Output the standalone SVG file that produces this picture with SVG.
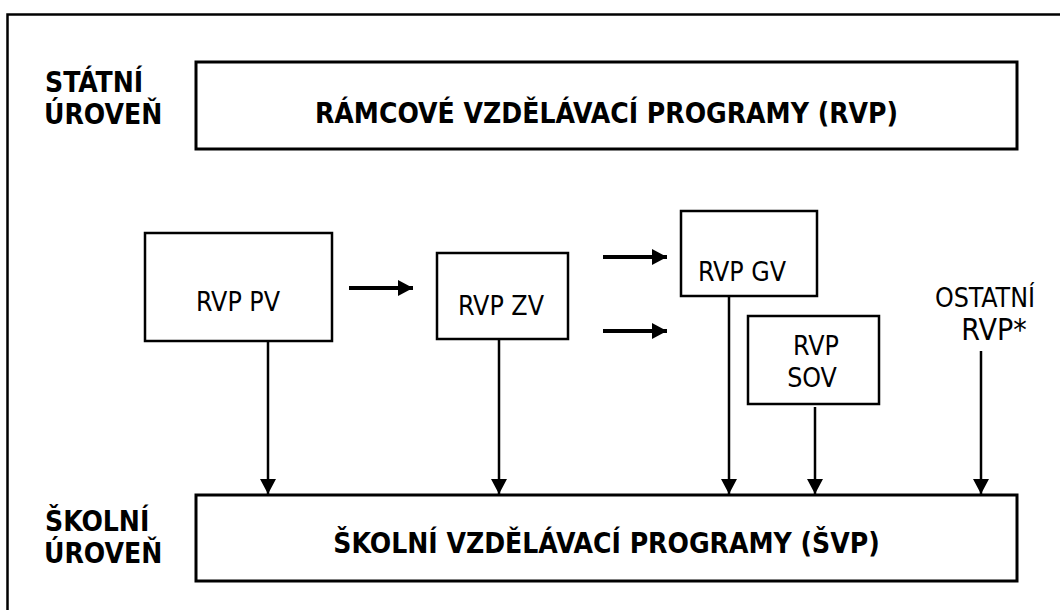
<svg xmlns="http://www.w3.org/2000/svg" width="1060" height="610" viewBox="0 0 1060 610">
<style>
.bx{fill:#fff;stroke:#000;stroke-width:2.5}
.big{fill:#fff;stroke:#000;stroke-width:3}
.lbl{font-family:"DejaVu Sans Condensed","DejaVu Sans",sans-serif;font-stretch:condensed;font-weight:bold;font-size:28px;fill:#000}
.t{font-family:"DejaVu Sans Condensed","DejaVu Sans",sans-serif;font-stretch:condensed;font-size:26.5px;fill:#000;text-anchor:middle}
.v{stroke:#000;stroke-width:2.5;fill:none;marker-end:url(#ah)}
.h{stroke:#000;stroke-width:4;fill:none;marker-end:url(#ah2)}
</style>
<defs>
<marker id="ah" markerUnits="userSpaceOnUse" markerWidth="16" markerHeight="16" viewBox="0 0 16 16" refX="15" refY="8" orient="auto">
<path d="M0,0 L15,8 L0,16 Z" fill="#000"/>
</marker>
<marker id="ah2" markerUnits="userSpaceOnUse" markerWidth="16" markerHeight="16" viewBox="0 0 16 16" refX="15" refY="8" orient="auto">
<path d="M0,0 L15,8 L0,16 Z" fill="#000"/>
</marker>
</defs>
<rect x="0" y="0" width="1060" height="610" fill="#fff"/>
<rect x="7.5" y="14.5" width="1100" height="700" fill="none" stroke="#000" stroke-width="2.5"/>
<g id="statni-uroven">
<text class="lbl" x="45" y="92">STÁTNÍ</text>
<text class="lbl" x="44" y="124">ÚROVEŇ</text>
</g>
<g id="skolni-uroven">
<text class="lbl" x="45" y="531">ŠKOLNÍ</text>
<text class="lbl" x="44" y="563">ÚROVEŇ</text>
</g>
<g id="rvp">
<rect class="big" x="196" y="62" width="821" height="87"/>
<text class="lbl" x="606.5" y="123" text-anchor="middle">RÁMCOVÉ VZDĚLÁVACÍ PROGRAMY (RVP)</text>
</g>
<g id="svp">
<rect class="big" x="196" y="495" width="821" height="86"/>
<text class="lbl" x="606.5" y="553" text-anchor="middle">ŠKOLNÍ VZDĚLÁVACÍ PROGRAMY (ŠVP)</text>
</g>
<g id="rvp-pv">
<rect class="bx" x="145" y="233" width="187" height="108"/>
<text class="t" x="238" y="311">RVP PV</text>
</g>
<g id="rvp-zv">
<rect class="bx" x="437" y="253" width="131" height="86"/>
<text class="t" x="501" y="315">RVP ZV</text>
</g>
<g id="rvp-gv">
<rect class="bx" x="681" y="211" width="136" height="85"/>
<text class="t" x="742" y="281">RVP GV</text>
</g>
<g id="rvp-sov">
<rect class="bx" x="748" y="316" width="131" height="88"/>
<text class="t" x="816" y="355">RVP</text>
<text class="t" x="812" y="387">SOV</text>
</g>
<g id="ostatni-rvp">
<text class="t" x="985" y="307">OSTATNÍ</text>
<text class="t" x="994" y="340" style="font-size:30px">RVP*</text>
</g>
<g id="connectors">
<line class="h" x1="349" y1="288" x2="413" y2="288"/>
<line class="h" x1="603" y1="257" x2="667" y2="257"/>
<line class="h" x1="603" y1="331" x2="667" y2="331"/>
<line class="v" x1="268" y1="341" x2="268" y2="494"/>
<line class="v" x1="499" y1="339" x2="499" y2="494"/>
<line class="v" x1="729" y1="296" x2="729" y2="494"/>
<line class="v" x1="815" y1="407" x2="815" y2="494"/>
<line class="v" x1="981" y1="351" x2="981" y2="494"/>
</g>
</svg>
